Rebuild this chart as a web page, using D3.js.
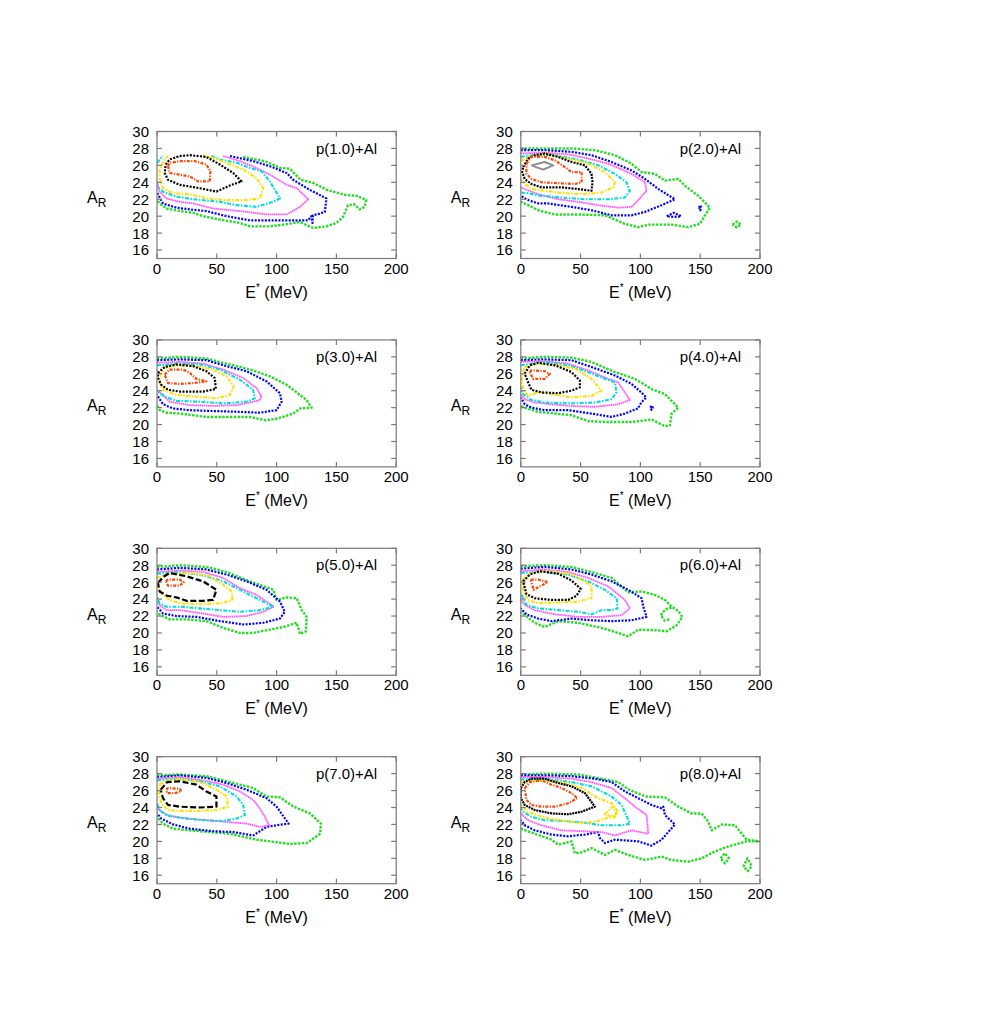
<!DOCTYPE html>
<html><head><meta charset="utf-8">
<script src="https://cdn.jsdelivr.net/npm/d3@7"></script>
<style>body{margin:0;background:#fff}svg{display:block}</style>
</head><body>
<script>
// ---------- data ----------
const titles = ["p(1.0)+Al","p(2.0)+Al","p(3.0)+Al","p(4.0)+Al","p(5.0)+Al","p(6.0)+Al","p(7.0)+Al","p(8.0)+Al"];
const xTicks = [0,50,100,150,200];
const yTicks = [16,18,20,22,24,26,28,30];
// contour levels, outermost -> innermost
const levelNames = ["green","blue","magenta","cyan","yellow","black","orange","gray"];
const G=0,B=1,M=2,C=3,Y=4,K=5,O=6,R=7;

const contoursP1 = [
 [G,[[72,27],[90,26.5],[103,25.7],[111,25.6],[120,24.3],[131,23.9],[142,23.1],[158,22.5],[167,22.4],[172,22.1],[175,21.9],[173.6,21.1],[169.4,20.8],[165,21.4],[159.7,21.3],[155.5,19.9],[150,19.2],[141.7,18.8],[130.5,18.6],[119.4,19.3],[105.5,19.0],[94.4,18.8],[77.8,18.8],[69,19.2],[52.5,19.6],[38.5,20.0],[30,20.4],[19,20.6],[8,20.9],[2,21.5],[0,22]]],
 [B,[[61,27.1],[80.4,26.5],[94.4,25.9],[108.4,25.1],[113.8,24.3],[127.8,23.1],[141.7,22.1],[140.3,20.5],[136,20.3],[130.5,20.1],[130,19.2],[129,20],[126.3,19.5],[113.8,19.5],[97.2,19.5],[77.8,19.5],[58.1,20.0],[41.3,20.6],[27.4,20.8],[16.2,21.0],[5,21.5],[0,22.8]]],
 [M,[[55.3,27.1],[69.3,26.5],[83.2,25.7],[94.4,24.9],[108.4,23.7],[116.8,23.3],[126.5,22.0],[119.6,21.1],[108.4,20.2],[91.6,20.2],[69.3,20.6],[46.9,20.9],[30.2,21.5],[19,21.7],[7.8,22.1],[2.2,22.9],[0,24.1]]],
 [C,[[45.5,27.1],[52.5,26.7],[66.5,26.3],[77.7,25.7],[87.4,25.3],[94.4,24.1],[102.8,22.1],[97.2,21.7],[83.2,21.1],[66.5,21.3],[52.5,21.7],[30.2,22.0],[16.2,22.3],[5,22.9],[0,23.5]]],
 [C,[[0,26.3],[3,26.8],[5,27.1]]],
 [Y,[[38.5,27.1],[46.9,26.9],[58.1,26.3],[72.1,25.5],[83.2,24.5],[88.8,23.3],[86,22.1],[74.9,21.9],[58.1,21.9],[41.3,22.1],[27.4,22.6],[13.4,22.7],[5,23.3],[2.2,24.5],[2.2,25.5],[6.4,26.7],[9.2,27.1]]],
 [K,[[7.3,26.1],[10.6,26.7],[19,27.1],[27.4,27.2],[41.3,27],[52.5,26.1],[63.7,25.1],[70.7,24.1],[62.3,23.7],[49.7,22.9],[35.8,23.3],[19,23.7],[9.2,24.3],[6.4,25.1],[7.3,26.1]]],
 [O,[[9.2,25.9],[10.6,26.3],[19,26.5],[31.6,26.5],[41.3,26.1],[44.7,25.3],[44.1,24.1],[34.4,24.1],[27.4,24.7],[19,24.9],[10.6,25.1],[9.2,25.9]]]
];
const contoursP2 = [
 [G,[[0,28],[20,28],[42.4,28],[62,27.8],[78.7,27.2],[92.6,26.2],[101,25.2],[112,25],[120.5,24.2],[131.7,24.4],[137.2,23.6],[148.4,22.4],[158.2,21.0],[154,20.1],[149.8,19.1],[140,18.7],[126,19.0],[106.6,19.0],[98.2,18.7],[87,19.1],[70.3,20.1],[48,20.2],[28.5,20.2],[14.5,20.7],[6.1,21.3],[0,21.7]]],
 [G,[[177,19],[180.5,19.35],[184,19],[180.5,18.65],[177,19]]],
 [B,[[0,27.8],[20,27.8],[42.4,27.6],[59.1,27.2],[75.9,26.4],[92.6,25.4],[103.8,24.4],[115,23.2],[128.9,22],[117.8,21.3],[103.8,20.5],[92.6,20.1],[75.9,20.1],[59.1,20.7],[42.4,21.1],[22.9,21.5],[14.5,21.5],[6.1,21.9],[0,22.4]]],
 [B,[[122,20],[128,20.4],[134,20],[128,19.9],[122,20]]],
 [B,[[149,21],[150,21.3],[151,21],[150,20.7],[149,21]]],
 [M,[[0,27.4],[20,27.5],[39.6,27.3],[56.3,26.8],[73.1,26.2],[92.6,25],[103.8,24],[105.2,23],[98.2,21.9],[92.6,21.1],[81.4,21.0],[64.7,21.3],[48,21.7],[31.2,22.0],[14.5,22.6],[3.3,23.2],[0,23.4]]],
 [C,[[0,27],[8.9,27.2],[28.5,27.2],[48,26.7],[64.7,26],[78.7,25],[88.4,24],[91.2,23],[87,22.2],[73.1,22.0],[53.6,22.0],[34,22.2],[17.3,22.4],[6.1,22.7],[0,22.8]]],
 [Y,[[0,26.5],[6.1,27],[20,27.4],[39.6,26.8],[56.3,26.2],[70.3,25.2],[78.7,24],[77.3,23.4],[67.5,22.8],[53.6,22.6],[36.8,22.7],[20,23],[8.9,23.2],[2,24],[0,24.4]]],
 [K,[[2,25.8],[6.1,26.8],[11.7,27.2],[20,27.4],[31.2,27.0],[42.4,26.4],[53.6,26],[59.1,25],[60,24],[59.1,23.0],[48,23.2],[34,23.4],[17.3,23.4],[8.9,23.8],[3.3,24.4],[1.1,25.2],[2,25.8]]],
 [O,[[4.7,26.2],[8.9,27],[20,27],[28.5,26.6],[36.8,25.8],[42.4,25.2],[50.8,25.2],[50.8,24],[45.2,23.8],[31.2,23.9],[17.3,24],[8.9,24.4],[4.7,25],[4.7,26.2]]],
 [R,[[8.9,26],[20,26.4],[27.1,26],[18.7,25.5],[8.9,26]]]
];
const contoursP3 = [
 [G,[[0,27.8],[19,28],[41.3,27.8],[58.1,27.2],[77.7,26.5],[94.4,25.7],[108.4,24.7],[125,22.9],[129.3,22.0],[119.6,21.9],[114,21.3],[100.6,20.7],[90.8,20.5],[77.7,20.9],[60.9,20.9],[41.3,20.9],[19,21.3],[7.8,21.4],[2.2,21.7],[0,22.3]]],
 [B,[[0,27.6],[19,27.7],[41.3,27.6],[58.1,26.9],[74.9,26.3],[91.6,25.1],[102.8,23.7],[104.2,22.7],[100,21.7],[86,21.4],[69.3,21.5],[46.9,21.6],[27.4,21.7],[13.4,21.9],[5,22.4],[0,23.5]]],
 [M,[[0,27.3],[19,27.4],[38.5,27.2],[55.3,26.5],[72.1,25.5],[83.2,24.3],[87.4,23.3],[86,22.9],[80.4,22.7],[66.5,22.3],[46.9,22.2],[27.4,22.3],[10.6,22.7],[5,23.5],[0,24.1]]],
 [C,[[0,27],[19,27.2],[35.8,27.1],[52.5,26.5],[69.3,25.3],[80.4,24.1],[81.8,23.1],[74.9,22.7],[55.3,22.5],[35.8,22.7],[16.2,22.8],[6.4,23.3],[2.2,23.7],[0,24]]],
 [Y,[[2.2,25.7],[6.4,26.7],[16.2,27],[33,26.9],[46.9,26.5],[58.1,25.7],[64.2,24.5],[60.9,23.5],[49.7,23.1],[33,23.3],[16.2,23.5],[5,24.1],[2.2,24.9],[2.2,25.7]]],
 [K,[[0.8,26.1],[6.4,26.8],[16.2,27.1],[30.2,26.9],[41.3,26.3],[48.3,25.5],[49.2,24.2],[38.5,23.9],[19,23.9],[9.2,24.1],[3.6,24.7],[0.8,25.5],[0.8,26.1]]],
 [O,[[6.4,25.9],[10.6,26.5],[21.8,26.5],[27.4,26.1],[33,25.4],[41.3,25.1],[30.2,24.9],[19,24.8],[9.2,24.9],[6.4,25.9]]]
];
const contoursP4 = [
 [G,[[0,27.8],[20,28],[42.4,27.9],[59.1,27.4],[78.7,26.2],[95.4,25.4],[109.3,24.2],[120.5,23.6],[131.7,22],[126.1,21.3],[124.7,19.9],[120.5,19.8],[109.3,20.6],[92.6,20.3],[73.1,20.3],[56.3,20.4],[42.4,21.1],[28.5,21.3],[14.5,21.5],[3.3,22.0],[0,22.2]]],
 [B,[[0,27.6],[20,27.7],[42.4,27.6],[59.1,26.8],[78.7,25.8],[92.6,24.8],[100.7,23.8],[104.9,23.2],[100.7,22.6],[97.9,21.9],[87,21.3],[75.9,20.9],[59.1,21.3],[39.6,21.7],[20,21.7],[8.9,22.0],[3.3,22.4],[0,23.2]]],
 [B,[[108.3,22],[109.3,22.25],[110.3,22],[109.3,21.75],[108.3,22]]],
 [M,[[0,27.4],[20,27.5],[39.6,27.2],[56.3,26.4],[73.1,25.4],[81.4,25],[87,23.8],[91.2,22.9],[81.4,22.4],[61.9,22.1],[42.4,22.2],[25.7,22.4],[11.7,22.6],[3.3,23.0],[0,23.6]]],
 [C,[[0,27],[20,27.4],[39.6,27],[56.3,26.2],[70.3,25.4],[78.7,25],[80,23.8],[75.9,23],[61.9,22.6],[42.4,22.5],[20,22.6],[8.9,22.9],[2,23.6],[0,24.4]]],
 [Y,[[3.3,26.8],[14.5,27.2],[31.2,27],[45.2,26.6],[59.1,25.4],[67.5,24],[59.1,23.4],[42.4,23.2],[25.7,23.6],[14.5,23.8],[6.1,23.4],[2,24.2],[0.6,25.6],[3.3,26.8]]],
 [K,[[3.3,26],[7.5,27],[14.5,27.3],[28.5,27],[42.4,26.2],[49.4,25.2],[49.4,24.4],[42.4,24],[31.2,23.7],[17.3,23.8],[8.9,24.1],[6.1,25],[3.3,26]]],
 [O,[[7.5,26.2],[8.9,26.4],[20,26.3],[24.3,26],[20,25.4],[10.3,25.4],[7.5,26.2]]]
];
const contoursP5 = [
 [G,[[0,27.8],[19,28],[41.3,27.8],[58.1,27.2],[77.7,26.1],[97.2,25.1],[100,23.9],[108.4,24.2],[116.8,24.1],[121,22.7],[125.1,21.9],[124.6,20.2],[119.6,19.9],[116.8,21.2],[105.6,20.7],[94.4,20.4],[80.4,20],[69.3,20],[55.3,20.6],[41.3,21.4],[24.6,21.6],[10.6,21.6],[2.2,22.2],[0,22.5]]],
 [B,[[0,27.5],[19,27.7],[41.3,27.5],[58.1,26.9],[74.9,26.1],[91.6,25.1],[102.8,23.7],[106.9,22.5],[102.8,21.7],[88.8,21.2],[72.1,21],[52.5,21.4],[33,21.9],[16.2,22],[5,22.3],[0,23.1]]],
 [M,[[0,27.2],[19,27.4],[38.5,27.2],[55.3,26.5],[69.3,25.3],[83.2,24.5],[97.8,23.1],[88.8,22.5],[74.9,22.0],[55.3,21.9],[38.5,22.3],[19,22.7],[7.8,22.7],[2.2,23.3],[0,23.7]]],
 [C,[[0,27],[19,27.2],[38.5,26.8],[55.3,26.1],[69.3,25.1],[83.2,24.1],[97.2,23.1],[86,22.7],[69.3,22.5],[52.5,22.7],[35.8,22.9],[19,23.1],[7.8,23.1],[2.2,23.5],[0,24.3]]],
 [Y,[[0,26.5],[7.8,26.9],[27.4,27.1],[44.1,26.7],[55.3,25.7],[62.3,24.9],[63.1,23.9],[52.5,23.5],[35.8,23.4],[19,23.5],[10.6,23.9],[3.6,24.7],[0.8,25.5],[0,26]]],
 [K,[[0.8,25.9],[5,26.6],[10.6,27.1],[24.6,26.7],[38.5,26.1],[49.7,25.1],[46.9,23.9],[38.5,23.8],[24.6,23.8],[16.2,24.2],[8.4,24.4],[2.2,24.9],[0.8,25.9]]],
 [O,[[7.3,26.1],[9.2,26.3],[19,26.3],[22.3,26],[19,25.6],[9.2,25.6],[7.3,26.1]]]
];
const contoursP6 = [
 [G,[[0,27.9],[20,28],[42.4,27.8],[59.1,27.2],[75.9,26.5],[89.8,24.8],[101,24.9],[112.1,24.5],[120.5,23.9],[126.1,23.1],[131.7,22.6],[135,21.9],[130.3,20.9],[121.9,20.2],[114.9,20.3],[98.2,20.4],[89.8,19.6],[81.4,20],[67.5,20.6],[48,21.2],[31.2,21.4],[20,20.7],[11.7,21.2],[3.3,22.1],[0,22.5]]],
 [G,[[126,23],[121,22.8],[117,22.1],[120,21.5],[125,21.6]]],
 [B,[[0,27.6],[20,27.8],[42.4,27.5],[59.1,26.9],[75.9,26.1],[89.8,25.1],[101,24.1],[102.4,23.1],[105.2,21.9],[92.6,21.5],[75.9,21.4],[59.1,21.5],[42.4,21.7],[25.7,21.4],[14.5,21.7],[4.7,22.2],[0,22.9]]],
 [M,[[0,27.3],[20,27.5],[39.6,27.2],[56.3,26.5],[73.1,25.5],[87,23.9],[91.2,22.9],[84.2,22.1],[67.5,21.9],[48,21.9],[28.5,22.2],[11.7,22.7],[3.3,23.3],[0,23.9]]],
 [C,[[0,27.1],[20,27.2],[39.6,26.9],[56.3,26.1],[70.3,25.1],[80.1,24.1],[80.9,22.9],[75.9,22.7],[67.5,22.7],[59.1,22.2],[48,22.5],[31.2,22.7],[14.5,22.9],[4.7,23.3],[0,24.7]]],
 [Y,[[1.1,26.3],[8.9,27.1],[25.7,27.3],[42.4,26.9],[53.6,26.1],[59.1,25.5],[59.1,24.1],[48,23.7],[31.2,23.6],[14.5,23.5],[6.1,23.9],[2,25.1],[1.1,26.3]]],
 [K,[[2,26.1],[7.5,26.9],[15.9,27.3],[31.2,27],[42.4,26.2],[50.2,25.2],[46.6,24.4],[39.6,23.9],[25.7,23.9],[11.7,24.1],[4.7,24.6],[2,26.1]]],
 [O,[[8.4,26.3],[14.5,26.3],[22.6,26],[10.6,25.1],[8.4,26.3]]]
];
const contoursP7 = [
 [G,[[0,27.8],[19,27.9],[41.3,27.7],[58.1,27.1],[80.4,26.3],[91.6,25.3],[102.8,25.2],[114,24.1],[127.9,23.3],[137,22.1],[136.5,20.9],[125,19.8],[111,19.7],[100,19.9],[83.2,20.2],[60.9,20.9],[44.1,21.1],[27.4,21.3],[13.4,21.5],[5,22.1],[0,22.9]]],
 [B,[[0,27.6],[19,27.8],[41.3,27.5],[58.1,26.9],[74.9,26.1],[91.6,25.1],[100,24.1],[110,22.1],[100,21.9],[91.6,21.7],[80.4,20.7],[63.7,21.1],[46.9,21.2],[27.4,21.5],[13.4,22],[3.6,22.7],[0,23.3]]],
 [M,[[0,27.4],[19,27.6],[38.5,27.2],[55.3,26.7],[69.3,25.9],[80.4,24.9],[86,23.9],[90.2,22.9],[93.8,21.9],[86,21.7],[74.9,22.1],[58.1,22.3],[41.3,22.5],[24.6,22.7],[10.6,23],[3.6,23.5],[0,23.9]]],
 [C,[[0,27.2],[16.2,27.4],[35.8,27.1],[52.5,26.5],[66.5,25.3],[72.1,24.3],[73.5,23.1],[66.5,22.7],[55.3,22.4],[38.5,22.5],[19,22.8],[7.8,23.1],[2.2,23.7],[0,24.5]]],
 [Y,[[2.2,26.7],[7.8,27.2],[19,27.4],[35.8,27],[49.7,26.1],[58.1,25.3],[59.5,24.1],[49.7,23.7],[35.8,23.6],[19,23.6],[9.2,23.7],[3.6,24.5],[1.7,25.5],[2.2,26.7]]],
 [K,[[3.1,26.1],[8.4,27],[19,27.1],[33,26.7],[41.3,25.9],[49.7,25.3],[49.7,24.1],[35.8,24],[19,24.1],[9.2,24.3],[5,25.1],[3.1,26.1]]],
 [O,[[7.8,26.1],[9.2,26.3],[19,26.2],[20.4,25.9],[14.8,25.7],[8.4,25.7],[7.8,26.1]]]
];
const contoursP8 = [
 [G,[[0,27.9],[20,28],[48,27.9],[67.5,27.4],[81.4,27],[90.4,26.1],[104.4,25.3],[120.5,25.2],[131.7,24.1],[142.8,23.3],[151.2,23.3],[156.8,22.3],[159.6,21.3],[168,22],[179.1,21.9],[188.8,20.2],[200,20.0]]],
 [G,[[0,21.5],[11.7,20.9],[25.7,20.2],[31.2,19.6],[42.4,20],[45.2,18.6],[50.8,18.7],[59.1,19.2],[70.3,18.4],[78.7,19],[89.8,18.4],[103.8,17.8],[117.8,18.2],[126.1,17.8],[140,17.6],[151.2,18],[162.3,18.8],[173.5,19.4],[188.8,20],[200,20]]],
 [G,[[167,18],[170.7,18.6],[174,18],[170.7,17.4],[167,18]]],
 [G,[[186,17],[189.5,18],[193,17.1],[190,16.5],[186,17]]],
 [B,[[0,27.8],[20,27.8],[42.4,27.7],[61.9,27.4],[75.9,27],[87,25.9],[101,24.9],[109.3,24.3],[117.7,23.9],[119.1,24.1],[120.5,23.1],[128.9,22.0],[123.3,21.1],[117.7,20.2],[109.3,19.5],[98.2,20],[78.7,20.2],[70.3,19.8],[66.1,20.4],[64.7,21.1],[53.6,20.8],[39.6,20.6],[25.7,20.8],[11.7,21.3],[3.3,21.9],[0,22.5]]],
 [M,[[0,27.6],[20,27.6],[42.4,27.4],[59.1,27],[75.9,26.3],[87,25.1],[95.4,24.1],[105.2,23.1],[106.6,20.9],[92.6,21.3],[78.7,20.7],[67.5,21.1],[50.8,21.2],[34,21.3],[17.3,21.9],[6.1,22.5],[0,23.3]]],
 [C,[[0,27.3],[20,27.4],[42.4,27],[59.1,26.5],[75.9,25.3],[84.3,24.3],[91.2,22.1],[84.3,21.9],[67.5,21.9],[53.6,22.2],[36.8,22.4],[20,22.5],[8.9,22.9],[2,23.5],[0,23.9]]],
 [Y,[[0,27],[20,27.2],[36.8,26.9],[50.8,26.3],[64.7,25.1],[75.9,24.5],[81.4,23.5],[78.7,22.9],[70.3,22.7],[62.3,22.3],[48,22.2],[31.2,22.5],[17.3,22.9],[6.1,23.5],[0,24.3]]],
 [Y,[[70,23.2],[77,24.1],[80,23.3],[76,22.9],[70,23.2]]],
 [K,[[0,26.3],[3.3,27],[8.9,27.4],[20,27.4],[31.2,26.9],[42.4,26.5],[53.6,25.7],[61.9,24.1],[50.8,23.5],[39.6,23.2],[25.7,23.3],[11.7,23.7],[3.3,24.3],[0,25.1],[0,26.3]]],
 [O,[[3.3,26.3],[7.5,27],[17.3,27.2],[25.7,26.7],[34,26.3],[42.4,25.7],[47.4,25.1],[39.6,24.5],[28.5,24.1],[17.3,24.1],[8.9,24.3],[4.7,24.9],[3.3,26.3]]]
];
const allContours = [contoursP1,contoursP2,contoursP3,contoursP4,contoursP5,contoursP6,contoursP7,contoursP8];

// ---------- styles ----------
const levelColor = ["#22dd22","#0000ff","#ff55ff","#00dddd","#ffe000","#000000","#ff4500","#8c8c8c"];
const levelDash  = ["2.4,1.4","2,1.4","1.6,0.5","4,1.5,1.5,1.5","4,1.5,1.5,1.5","2,1.4","3,1.4,1.2,1.4",null];
const levelWidth = [2.4,2.2,1.8,2.1,2.1,2.2,2.2,2];
const blackDash = ["2,1.4","2,1.2","2,1.4","2,1.4","6,2.5","2,1.4","6,2.5","2,0.8"];

// ---------- layout ----------
const W=981,H=1035;
const colX=[157,520.8], rowY=[131.5,339.9,548.3,756.7];
const pw=239.2, ph=127;
const font="'Liberation Sans', Arial, Helvetica, sans-serif";

const svg=d3.select("body").append("svg").attr("width",W).attr("height",H);
svg.append("rect").attr("width",W).attr("height",H).attr("fill","#fff");

const x=d3.scaleLinear().domain([0,200]).range([0,pw]);
const y=d3.scaleLinear().domain([15,30]).range([ph,0]);
const line=d3.line().x(d=>x(d[0])).y(d=>y(d[1]));

allContours.forEach((cs,i)=>{
  const col=i%2,row=Math.floor(i/2);
  const g=svg.append("g").attr("transform",`translate(${colX[col]},${rowY[row]})`);
  const cid="clip"+i;
  g.append("clipPath").attr("id",cid).append("rect").attr("x",0).attr("y",0).attr("width",pw).attr("height",ph);
  const cg=g.append("g").attr("clip-path",`url(#${cid})`);
  cs.forEach(([lv,pts])=>{
    cg.append("path").attr("d",line(pts)).attr("fill","none")
      .attr("stroke",levelColor[lv]).attr("stroke-width",levelWidth[lv])
      .attr("stroke-dasharray",lv===K?blackDash[i]:levelDash[lv])
      .attr("stroke-linejoin","round");
  });
  // frame
  const fc="#7a7a7a";
  g.append("rect").attr("x",0).attr("y",0).attr("width",pw).attr("height",ph)
    .attr("fill","none").attr("stroke",fc).attr("stroke-width",1.2);
  // ticks (inward, mirrored)
  const tl=5;
  yTicks.forEach(t=>{
    g.append("line").attr("x1",0).attr("x2",tl).attr("y1",y(t)).attr("y2",y(t)).attr("stroke",fc).attr("stroke-width",1.2);
    g.append("line").attr("x1",pw-tl).attr("x2",pw).attr("y1",y(t)).attr("y2",y(t)).attr("stroke",fc).attr("stroke-width",1.2);
    g.append("text").attr("x",-8).attr("y",y(t)).attr("dy","0.36em").attr("text-anchor","end")
      .attr("font-family",font).attr("font-size",15).text(t);
  });
  xTicks.forEach(t=>{
    g.append("line").attr("x1",x(t)).attr("x2",x(t)).attr("y1",ph).attr("y2",ph-tl).attr("stroke",fc).attr("stroke-width",1.2);
    g.append("line").attr("x1",x(t)).attr("x2",x(t)).attr("y1",0).attr("y2",tl).attr("stroke",fc).attr("stroke-width",1.2);
    g.append("text").attr("x",x(t)).attr("y",ph+15).attr("text-anchor","middle")
      .attr("font-family",font).attr("font-size",15).text(t);
  });
  // title
  g.append("text").attr("x",pw-19).attr("y",22).attr("text-anchor","end")
    .attr("font-family",font).attr("font-size",15).text(titles[i]);
  // y label A_R
  const yl=g.append("text").attr("x",-70).attr("y",ph/2+8).attr("font-family",font).attr("font-size",16);
  yl.append("tspan").text("A");
  yl.append("tspan").attr("font-size",12).attr("dy",4).text("R");
  // x label E* (MeV)
  const xl=g.append("text").attr("x",pw/2).attr("y",ph+39).attr("text-anchor","middle").attr("font-family",font).attr("font-size",16);
  xl.append("tspan").text("E");
  xl.append("tspan").attr("font-size",10).attr("dy",-7).text("*");
  xl.append("tspan").attr("dy",7).text(" (MeV)");
});
</script>
</body></html>
